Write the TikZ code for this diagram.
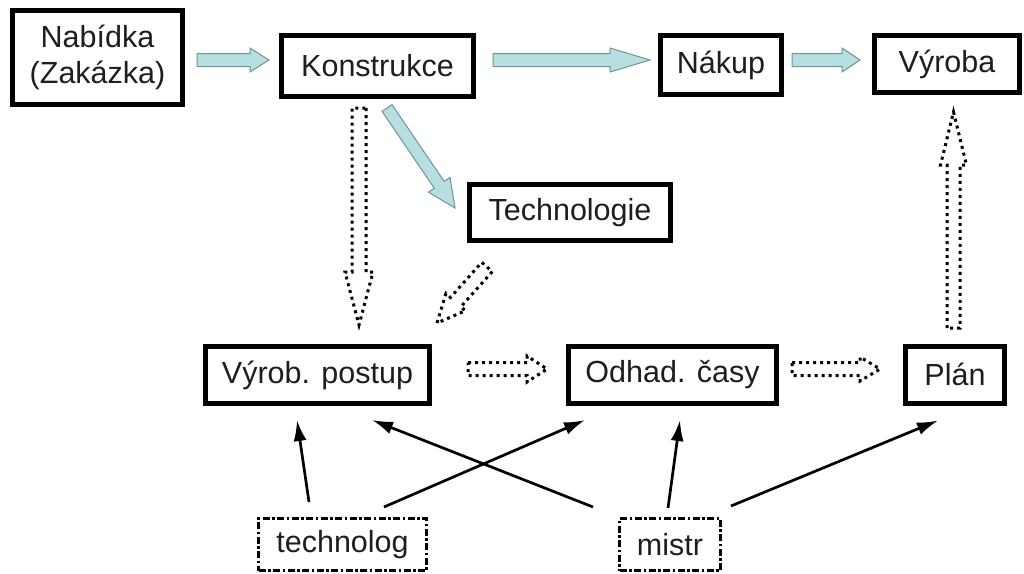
\documentclass[tikz,border=0pt]{standalone}
\usepackage{fontspec}
\setmainfont{Liberation Sans}
\usetikzlibrary{calc,arrows.meta}

\definecolor{flowfill}{HTML}{B7DFE1}
\definecolor{flowedge}{HTML}{6E9497}
\definecolor{ink}{HTML}{1E1E1E}

\tikzset{
  box/.style={draw=black, line width=5pt, fill=white, inner sep=0pt,
    text=ink, font=\fontsize{30.5}{36}\selectfont, align=center},
  rolebox/.style={draw=black, line width=3pt,
    dash pattern=on 7pt off 2.5pt on 2.5pt off 2.5pt, inner sep=0pt,
    text=ink, font=\fontsize{30.5}{36}\selectfont},
  flowarrow/.style={fill=flowfill, draw=flowedge, line width=1pt, line join=miter},
  planarrow/.style={draw=black, line width=3pt, dash pattern=on 3pt off 4pt},
  linkarrow/.style={draw=black, line width=2.7pt, -{Latex[length=21pt,width=13pt]}},
}

% Block arrow outline: #1 style, #2 tail, #3 tip,
% #4 half shaft width, #5 half head width, #6 head length
\newcommand\flowshape[6]{%
  \coordinate (fs-base) at ($(#3)!#6!(#2)$);
  \draw[#1] ($(#2)!#4!90:(#3)$) -- ($(fs-base)!#4!90:(#3)$)
    -- ($(fs-base)!#5!90:(#3)$) -- (#3)
    -- ($(fs-base)!#5!-90:(#3)$) -- ($(fs-base)!#4!-90:(#3)$)
    -- ($(#2)!#4!-90:(#3)$) -- cycle;
}

\begin{document}
\begin{tikzpicture}[x=1pt, y=-1pt]
  \useasboundingbox (0,0) rectangle (1024,573);

  % process boxes
  \node[box, minimum width=170pt, minimum height=94pt] (nab) at (97.5,57.5) {Nabídka\\(Zakázka)};
  \node[box, minimum width=192pt, minimum height=61pt] (kon) at (377.5,66) {Konstrukce};
  \node[box, minimum width=121pt, minimum height=59pt] (nak) at (721,65) {Nákup};
  \node[box, minimum width=145pt, minimum height=57pt] (vyr) at (947,64) {Výroba};
  \node[box, minimum width=201pt, minimum height=56pt] (tch) at (570,212.5) {Technologie};
  \node[box, minimum width=224pt, minimum height=57pt] (vp)  at (317.5,375) {Výrob. postup};
  \node[box, minimum width=208pt, minimum height=57pt] (odh) at (672.5,375) {Odhad. časy};
  \node[box, minimum width=99pt,  minimum height=57pt] (pla) at (955,374.5) {Plán};

  % roles
  \node[rolebox, minimum width=168pt, minimum height=52pt] (tec) at (342.5,544.5) {technolog};
  \node[rolebox, minimum width=101pt, minimum height=52pt] (mis) at (670,544.5) {mistr};

  % document flow (shaded block arrows)
  \coordinate (f1s) at (197,60);  \coordinate (f1e) at (269,60);
  \coordinate (f2s) at (493,60);  \coordinate (f2e) at (650,60);
  \coordinate (f3s) at (792,60);  \coordinate (f3e) at (860,60);
  \coordinate (f4s) at (387,108); \coordinate (f4e) at (455,208);
  \flowshape{flowarrow}{f1s}{f1e}{6.5pt}{12pt}{19pt}
  \flowshape{flowarrow}{f2s}{f2e}{6.5pt}{12pt}{40pt}
  \flowshape{flowarrow}{f3s}{f3e}{6.5pt}{12pt}{18pt}
  \flowshape{flowarrow}{f4s}{f4e}{6pt}{13pt}{28pt}

  % planning flow (dotted block arrows)
  \coordinate (p1s) at (359,108);   \coordinate (p1e) at (359,325);
  \coordinate (p2s) at (487,267);   \coordinate (p2e) at (437,323);
  \coordinate (p3s) at (468,369);   \coordinate (p3e) at (547,369);
  \coordinate (p4s) at (792,369);   \coordinate (p4e) at (880,369);
  \coordinate (p5s) at (953.5,328); \coordinate (p5e) at (953.5,112);
  \flowshape{planarrow}{p1s}{p1e}{7pt}{14pt}{53pt}
  \flowshape{planarrow}{p2s}{p2e}{7pt}{13pt}{28pt}
  \flowshape{planarrow}{p3s}{p3e}{6.5pt}{13pt}{20pt}
  \flowshape{planarrow}{p4s}{p4e}{6.5pt}{12pt}{20pt}
  \flowshape{planarrow}{p5s}{p5e}{6.5pt}{13pt}{53pt}

  % responsibilities
  \draw[linkarrow] ([shift={(-33.5,-15)}]tec.north) -- ([shift={(-20.5,14)}]vp.south);
  \draw[linkarrow] ([shift={(41.5,-10)}]tec.north)  -- ([shift={(-87.5,14)}]odh.south);
  \draw[linkarrow] ([shift={(-77,-10)}]mis.north)   -- ([shift={(54.5,14)}]vp.south);
  \draw[linkarrow] ([shift={(-2,-9)}]mis.north)     -- ([shift={(7.5,14)}]odh.south);
  \draw[linkarrow] ([shift={(61,-11)}]mis.north)    -- ([shift={(-17,15)}]pla.south);
\end{tikzpicture}
\end{document}
